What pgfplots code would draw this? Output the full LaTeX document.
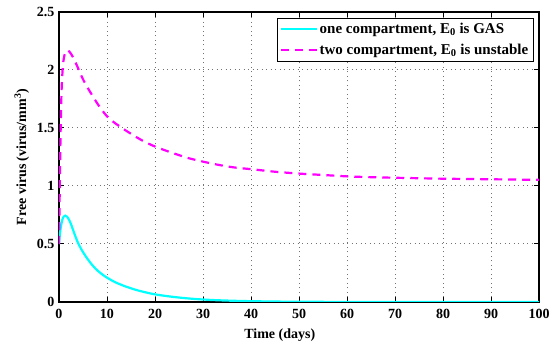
\documentclass[border=0pt]{standalone}
\usepackage{pgfplots}
\pgfplotsset{compat=1.18}
\usepackage{fontspec}
\setmainfont{Liberation Serif}

\definecolor{oneC}{rgb}{0,1,1}
\definecolor{twoC}{rgb}{1,0,1}

% one-compartment model, free virus over time
\pgfplotstableread{
t v
0 0.50
0.2 0.59
0.4 0.65
0.7 0.71
1.0 0.737
1.3 0.744
1.7 0.735
2.2 0.70
2.6 0.66
3.2 0.59
4 0.506
5 0.43
6 0.368
7 0.315
8 0.272
9 0.238
10 0.21
11 0.186
12 0.165
13 0.148
14 0.132
16.5 0.099
20 0.066
24 0.043
28 0.027
32 0.017
36 0.011
40 0.007
45 0.004
50 0.002
60 0.0008
70 0.0003
80 0.0001
100 0
}\onecomp

% two-compartment model, free virus over time
\pgfplotstableread{
t v
0 0.50
0.1 0.80
0.2 1.10
0.3 1.38
0.4 1.60
0.5 1.77
0.6 1.89
0.8 2.03
1.0 2.10
1.3 2.15
1.8 2.17
2.5 2.14
3.5 2.06
5 1.92
6.5 1.81
8.5 1.68
10.5 1.58
13.5 1.49
17 1.40
20 1.34
24 1.28
27 1.24
30 1.21
33.5 1.18
36.5 1.16
40 1.145
45 1.123
50 1.107
55 1.095
60 1.083
65 1.076
70 1.071
75 1.067
80 1.063
90 1.058
100 1.053
}\twocomp

\begin{document}
\begin{tikzpicture}
\begin{axis}[
  scale only axis,
  width=480pt, height=290pt,
  xmin=0, xmax=100, ymin=0, ymax=2.5,
  xtick={0,10,...,100},
  ytick={0,0.5,...,2.5},
  tick align=inside,
  major tick length=5pt,
  axis line style={line width=1.2pt},
  major tick style={black, line width=1pt},
  xmajorgrids, ymajorgrids,
  major grid style={color=black!55, line width=1pt, dash pattern=on 1pt off 3.5pt},
  /pgf/number format/assume math mode=true,
  tick label style={font=\fontsize{14}{16}\selectfont\bfseries},
  xticklabel style={yshift=-4pt},
  yticklabel style={xshift=-1pt},
  xlabel={Time (days)},
  ylabel={Free virus (virus/mm\textsuperscript{3})},
  label style={font=\fontsize{14}{16}\selectfont\bfseries},
  xlabel style={at={(axis description cs:0.46,0)}, anchor=north, yshift=-23pt},
  ylabel style={yshift=1pt},
  legend style={
    at={(axis cs:98.9,2.45)}, anchor=north east,
    font=\fontsize{15}{18}\selectfont\bfseries,
    draw=black, line width=0.8pt, fill=white,
    inner sep=3pt, row sep=5pt,
    legend cell align=left,
  },
  legend image post style={line width=1.5pt},
  legend image code/.code={\draw[#1] (0pt,0pt) -- (36pt,0pt);},
]
\addplot[oneC, line width=2.2pt, smooth] table[x=t, y=v] {\onecomp};
\addlegendentry{one compartment, E\textsubscript{0} is GAS}
\addplot[twoC, line width=2.2pt, smooth, dash pattern=on 8pt off 6pt] table[x=t, y=v] {\twocomp};
\addlegendentry{two compartment, E\textsubscript{0} is unstable}
\end{axis}
\path (-59pt,-42pt) rectangle (500pt,302pt);
\end{tikzpicture}
\end{document}
